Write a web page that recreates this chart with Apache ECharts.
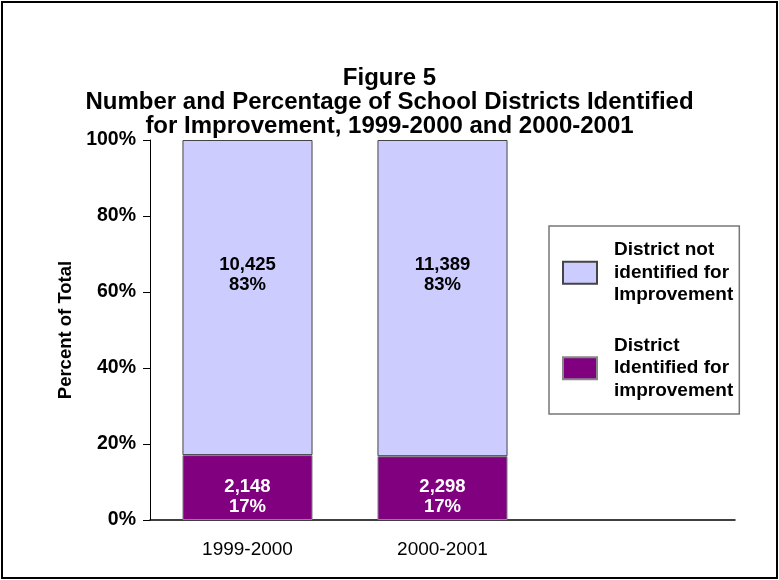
<!DOCTYPE html>
<html>
<head>
<meta charset="utf-8">
<script src="https://cdn.jsdelivr.net/npm/echarts@6/dist/echarts.min.js"></script>
<style>
html,body{margin:0;padding:0;background:#fff;}
#c{width:779px;height:580px;}
</style>
</head>
<body>
<div id="c"></div>
<script>
const categories = ['1999-2000', '2000-2001', ''];
const notIdentifiedCounts = [10425, 11389];
const identifiedCounts = [2148, 2298];
const yTicks = [0, 20, 40, 60, 80, 100];
const seriesNames = ['District not\nidentified for\nImprovement', 'District\nIdentified for\nimprovement'];
const titleText = 'Figure 5\nNumber and Percentage of School Districts Identified\nfor Improvement, 1999-2000 and 2000-2001';

const totals = notIdentifiedCounts.map((v, i) => v + identifiedCounts[i]);
const pctIdent = identifiedCounts.map((v, i) => v / totals[i] * 100);
const pctNot = notIdentifiedCounts.map((v, i) => v / totals[i] * 100);
const fmt = n => n.toLocaleString('en-US');

const chart = echarts.init(document.getElementById('c'));
const FONT = 'Liberation Sans, Arial, sans-serif';

chart.setOption({
  animation: false,
  backgroundColor: '#fff',
  textStyle: { fontFamily: FONT },
  title: {
    text: titleText,
    left: 'center',
    top: 61,
    textStyle: { fontFamily: FONT, fontSize: 24, fontWeight: 'bold', color: '#000', lineHeight: 24 }
  },
  graphic: [{
    type: 'rect',
    shape: { x: 2, y: 2, width: 775, height: 576 },
    style: { fill: 'none', stroke: '#000', lineWidth: 2 },
    silent: true
  }],
  legend: {
    orient: 'vertical',
    left: 549,
    top: 226,
    icon: 'rect',
    data: [seriesNames[0], seriesNames[1]],
    itemWidth: 34,
    itemHeight: 22,
    itemGap: 28,
    padding: [13, 6, 12, 13],
    borderColor: '#777',
    borderWidth: 1.5,
    textStyle: { fontFamily: FONT, fontSize: 19, fontWeight: 'bold', color: '#000', lineHeight: 22.5, padding: [0, 0, 0, 12] }
  },
  grid: { left: 150, right: 44, top: 140, bottom: 60 },
  xAxis: {
    type: 'category',
    data: categories,
    axisLine: { lineStyle: { color: '#000', width: 1.5 } },
    axisTick: { show: false },
    axisLabel: { color: '#000', fontSize: 19, fontFamily: FONT, margin: 20 }
  },
  yAxis: {
    type: 'value',
    min: yTicks[0],
    max: yTicks[yTicks.length - 1],
    interval: yTicks[1] - yTicks[0],
    name: 'Percent of Total',
    nameLocation: 'middle',
    nameGap: 65,
    nameTextStyle: { fontFamily: FONT, fontSize: 18.5, fontWeight: 'bold', color: '#000' },
    axisLine: { show: true, lineStyle: { color: '#000', width: 1 } },
    axisTick: { show: true, inside: false, length: 7, lineStyle: { color: '#000' } },
    splitLine: { show: false },
    axisLabel: { formatter: '{value}%', color: '#000', fontSize: 19.5, fontWeight: 'bold', fontFamily: FONT, margin: 14 }
  },
  series: [
    {
      name: seriesNames[1],
      type: 'bar',
      stack: 'a',
      barCategoryGap: '33.3%',
      data: pctIdent,
      itemStyle: { color: '#800080', borderColor: '#888', borderWidth: 1 },
      label: {
        show: true,
        position: 'inside',
        offset: [0, 9],
        formatter: p => fmt(identifiedCounts[p.dataIndex]) + '\n' + Math.round(pctIdent[p.dataIndex]) + '%',
        color: '#fff', fontSize: 18.5, fontWeight: 'bold', fontFamily: FONT, lineHeight: 20
      }
    },
    {
      name: seriesNames[0],
      type: 'bar',
      stack: 'a',
      data: pctNot,
      itemStyle: { color: '#CCCCFF', borderColor: '#444', borderWidth: 1 },
      label: {
        show: true,
        position: 'inside',
        offset: [0, -23],
        formatter: p => fmt(notIdentifiedCounts[p.dataIndex]) + '\n' + Math.round(pctNot[p.dataIndex]) + '%',
        color: '#000', fontSize: 18.5, fontWeight: 'bold', fontFamily: FONT, lineHeight: 20
      }
    }
  ]
});
</script>
</body>
</html>
